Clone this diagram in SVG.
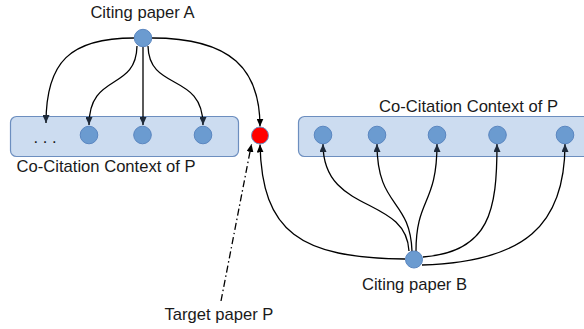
<svg xmlns="http://www.w3.org/2000/svg" width="584" height="329" viewBox="0 0 584 329">
<defs>
<style>
.lbl{font-family:"Liberation Sans",Arial,sans-serif;font-size:16.6px;fill:#1a1a1a}
.box{fill:#ccdcf0;stroke:#6c8ebf;stroke-width:1.2}
.node{fill:#6b9bd0;stroke:#5a86c0;stroke-width:1}
.target{fill:#ff0000;stroke:#6c8ebf;stroke-width:1}
.edge{fill:none;stroke:#000;stroke-width:1.3}
.in{marker-end:url(#ahBlue)}
.out{marker-end:url(#ah)}
.dd{stroke-dasharray:7 3 1.5 3}
</style>
<marker id="ah" viewBox="0 0 8 7" refX="8" refY="3.5" markerWidth="8" markerHeight="7" markerUnits="userSpaceOnUse" orient="auto">
<path d="M0,0 L8,3.5 L0,7 z" fill="#000"/>
</marker>
<marker id="ahBlue" viewBox="0 0 8 7" refX="8" refY="3.5" markerWidth="8" markerHeight="7" markerUnits="userSpaceOnUse" orient="auto">
<path d="M0,0 L8,3.5 L0,7 z" fill="#1e2a3a"/>
</marker>
</defs>

<g id="context-left">
<rect class="box" x="10.5" y="116.5" width="228" height="40" rx="6"/>
<text class="lbl" x="45" y="143" text-anchor="middle">. . .</text>
<text class="lbl" x="106" y="172" text-anchor="middle">Co-Citation Context of P</text>
</g>
<g id="context-right">
<rect class="box" x="298.5" y="116.5" width="300" height="40" rx="6"/>
<text class="lbl" x="468.5" y="112" text-anchor="middle">Co-Citation Context of P</text>
</g>

<g id="connectors">
<path class="edge in" d="M134,38 C70,38 46,62 46,123"/>
<path class="edge in" d="M137,46 C136,92 89,72 89,125"/>
<path class="edge in" d="M143,47 L143,125"/>
<path class="edge in" d="M148,46 C149,92 203,72 203,125"/>
<path class="edge out" d="M152,38 C232,38 260,70 260,126.5"/>
<path class="edge out" d="M405,259 C300,258 262,232 260,144.5"/>
<path class="edge in" d="M409,251 C406,195 323,215 323,144"/>
<path class="edge in" d="M412,251 C410,198 377,208 377,144"/>
<path class="edge in" d="M416,251 C416,198 437,205 437,144"/>
<path class="edge in" d="M423,257 C490,252 497,210 497,144"/>
<path class="edge in" d="M422,265 C525,262 565,225 565,144"/>
<path class="edge out dd" d="M221,301 L251.5,144"/>
</g>

<g id="citing-a">
<circle class="node" cx="143" cy="38" r="8.7"/>
<text class="lbl" x="142.5" y="18" text-anchor="middle">Citing paper A</text>
</g>
<g id="left-n1"><circle class="node" cx="89" cy="135" r="8.8"/></g>
<g id="left-n2"><circle class="node" cx="142.5" cy="135" r="8.8"/></g>
<g id="left-n3"><circle class="node" cx="203" cy="135" r="8.8"/></g>
<g id="target-p">
<circle class="target" cx="260" cy="135.5" r="8.5"/>
<text class="lbl" x="219" y="320" text-anchor="middle">Target paper P</text>
</g>
<g id="right-n1"><circle class="node" cx="323" cy="135" r="8.8"/></g>
<g id="right-n2"><circle class="node" cx="377" cy="135" r="8.8"/></g>
<g id="right-n3"><circle class="node" cx="437" cy="135" r="8.8"/></g>
<g id="right-n4"><circle class="node" cx="497.5" cy="135" r="8.8"/></g>
<g id="right-n5"><circle class="node" cx="565" cy="135" r="8.8"/></g>
<g id="citing-b">
<circle class="node" cx="414" cy="259.5" r="8.5"/>
<text class="lbl" x="414.5" y="290" text-anchor="middle">Citing paper B</text>
</g>
</svg>
